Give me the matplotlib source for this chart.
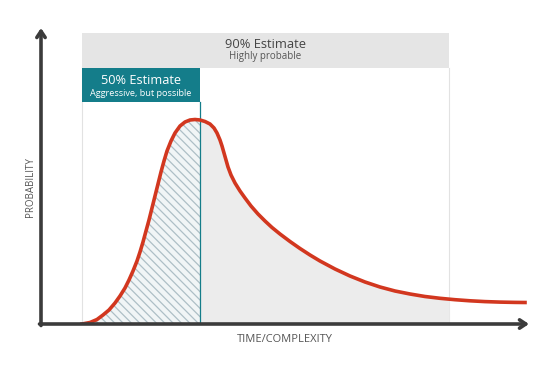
"""
Probability curve with 50% / 90% estimate bands.
"""
import numpy as np
import matplotlib.pyplot as plt

# curve (arbitrary time/complexity and probability units)
time = [41, 49, 56, 62, 68, 74, 79, 84, 88, 92,
        96, 99, 102, 105, 108, 111, 114, 117, 120, 123,
        126, 130, 134, 139, 144, 149, 154, 159, 164, 169,
        173, 176, 179, 181, 183, 185, 187, 190, 194, 199,
        204, 210, 217, 224, 231, 239, 249, 259, 269, 279,
        294, 309, 324, 339, 354, 369, 384, 399, 414, 429,
        444, 459, 474, 484]
prob = [0, 1.5, 4.5, 9, 14, 21, 28, 36, 44, 53,
        63, 72, 82, 93, 104, 116, 128, 140, 152, 163,
        173, 183, 191, 198, 202, 204, 204.5, 204, 202.5, 200,
        196, 191, 184, 178, 171, 164, 157, 149, 141, 133,
        126, 118, 110, 103, 96.5, 90, 82.5, 75.5, 69, 63,
        55, 48, 42, 37, 33, 30, 27.5, 25.7, 24.3, 23.2,
        22.4, 21.9, 21.6, 21.5]

est90 = (41, 408)   # 90% estimate band
est50 = (41, 159)   # 50% estimate band
labels90 = ("90% Estimate", "Highly probable")
labels50 = ("50% Estimate", "Aggressive, but possible")

RED = '#d2371f'
TEAL = '#147d8a'
AXIS = '#3b3b3b'

plt.rcParams['font.family'] = ['Open Sans', 'DejaVu Sans']
plt.rcParams['hatch.linewidth'] = 0.9
plt.rcParams['hatch.color'] = '#aebfc6'

fig = plt.figure(figsize=(5.6, 3.71), dpi=100)
ax = fig.add_axes([41 / 560, 47 / 371, 487 / 560, 294 / 371])
ax.set_xlim(0, 487)
ax.set_ylim(0, 294)
ax.axis('off')

t = np.array(time, dtype=float)
p = np.array(prob, dtype=float)
p_at50 = np.interp(est50[1], t, p)
p_at90 = np.interp(est90[1], t, p)

# grey fill between the 50% line and the end of the 90% band
mid = (t > est50[1]) & (t < est90[1])
ax.fill_between(np.r_[est50[1], t[mid], est90[1]], 0,
                np.r_[p_at50, p[mid], p_at90],
                color='#ececec', lw=0, zorder=1)

# hatched fill for the 50% part
left = t < est50[1]
ax.fill_between(np.r_[t[left], est50[1]], 0, np.r_[p[left], p_at50],
                facecolor='#f1f5f6', edgecolor='#aebfc6',
                hatch='\\\\\\\\', lw=0, zorder=1)

# 90% header band and its faint sides
ax.fill_between(est90, 256, 291, color='#e5e5e5', lw=0, zorder=1)
for xv in est90:
    ax.plot([xv, xv], [0, 256], color='#e2e2e2', lw=0.8, zorder=0.5)
ax.text(sum(est90) / 2, 280, labels90[0], ha='center', va='center',
        fontsize=9.3, color='#444444', zorder=3)
ax.text(sum(est90) / 2, 267, labels90[1], ha='center', va='center',
        fontsize=7, color='#555555', zorder=3)

# 50% header band and divider
ax.fill_between(est50, 222, 256, color=TEAL, lw=0, zorder=2)
ax.plot([est50[1], est50[1]], [0, 222], color=TEAL, lw=0.9, zorder=2)
ax.text(sum(est50) / 2, 244, labels50[0], ha='center', va='center',
        fontsize=9.2, color='white', zorder=3)
ax.text(sum(est50) / 2, 231, labels50[1], ha='center', va='center',
        fontsize=6.6, color='white', zorder=3)

ax.plot(t, p, color=RED, lw=2.6, solid_joinstyle='round', zorder=4)

# arrowed axes
arrow = dict(arrowstyle='->,head_length=0.45,head_width=0.3', lw=2.6,
             color=AXIS, shrinkA=0, shrinkB=0)
ax.annotate('', xy=(0, 296), xytext=(0, -1.5), arrowprops=arrow,
            annotation_clip=False, zorder=5)
ax.annotate('', xy=(488, 0), xytext=(-1.5, 0), arrowprops=arrow,
            annotation_clip=False, zorder=5)

ax.text(-11, 137, "PROBABILITY", rotation=90, ha='center', va='center',
        fontsize=7, color='#555555')
ax.text(244, -16, "TIME/COMPLEXITY", ha='center', va='center',
        fontsize=8, color='#555555')

fig.savefig('out.png', dpi=100)
